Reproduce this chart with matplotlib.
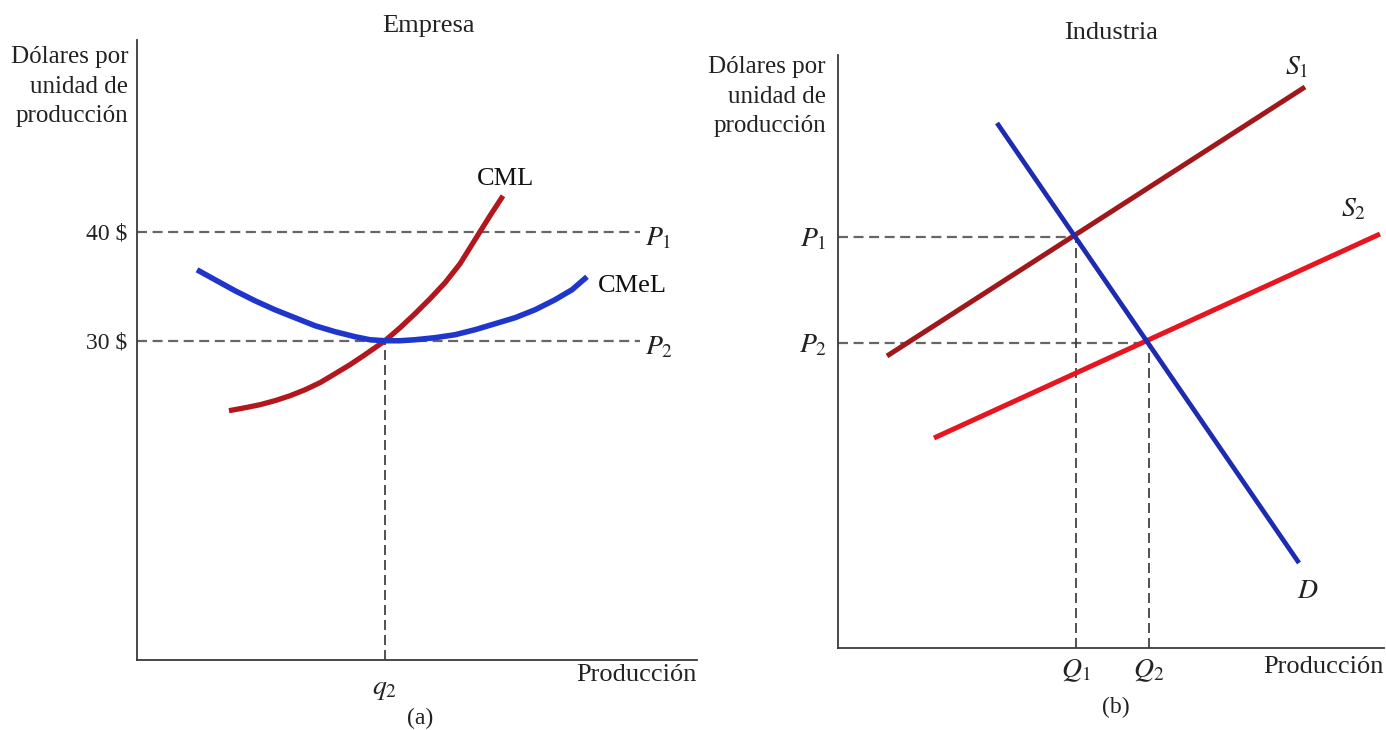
import matplotlib
matplotlib.use('Agg')
import matplotlib.pyplot as plt

plt.rcParams['font.family'] = ['Liberation Serif', 'DejaVu Serif']
plt.rcParams['mathtext.fontset'] = 'stix'

# Empresa (a): producción vs. dólares por unidad
q2 = 248
p1_a, p2_a = 40, 30
cmel_x = [60, 78, 98, 118, 138, 158, 178, 198, 218, 233, 248,
          263, 278, 298, 318, 338, 358, 378, 398, 418, 435, 450]
cmel_y = [36.51, 35.60, 34.59, 33.67, 32.84, 32.11, 31.38, 30.83, 30.37, 30.09, 30.0,
          30.0, 30.09, 30.28, 30.55, 31.01, 31.56, 32.11, 32.84, 33.76, 34.68, 35.87]
cml_x = [92, 108, 123, 138, 153, 168, 183, 198, 213, 228, 248,
         263, 278, 293, 308, 323, 338, 353, 366]
cml_y = [23.58, 23.85, 24.13, 24.50, 24.95, 25.50, 26.15, 26.97, 27.80, 28.72, 30.0,
         31.19, 32.48, 33.85, 35.32, 37.06, 39.27, 41.47, 43.30]

# Industria (b): rectas de oferta y demanda
Q1, Q2 = 238, 311
P1, P2 = 411, 305
s1_x, s1_y = [49, 467], [292, 561]
s2_x, s2_y = [96, 542], [210, 414]
d_x, d_y = [159, 461], [525, 85]

fs = 19
fs_lab = 18
axis_col = '#3a3a3a'
dash_col = '#666666'
txt = '#222222'

fig = plt.figure(figsize=(13.86, 7.30), dpi=100)

# ---------- panel (a) ----------
ax1 = fig.add_axes([137/1386, 70/730, 560/1386, 620/730])
ax1.set_xlim(0, 560)
ax1.set_ylim(0.7, 57.6)
for s in ['top', 'right']:
    ax1.spines[s].set_visible(False)
for s in ['left', 'bottom']:
    ax1.spines[s].set_color(axis_col)
    ax1.spines[s].set_linewidth(1.3)

ax1.plot([0, 503], [p1_a, p1_a], color=dash_col, lw=1.6, dashes=(4.5, 2.5))
ax1.plot([0, 503], [p2_a, p2_a], color=dash_col, lw=1.6, dashes=(4.5, 2.5))
ax1.plot([q2, q2], [0.7, p2_a], color='#333333', lw=1.2, dashes=(6, 3))

ax1.plot(cml_x, cml_y, color='#b3161c', lw=3.8, solid_capstyle='butt', solid_joinstyle='round')
ax1.plot(cmel_x, cmel_y, color='#1f36cc', lw=4.0, solid_capstyle='butt', solid_joinstyle='round')

ax1.set_yticks([p1_a, p2_a])
ax1.set_yticklabels(['40 $', '30 $'])
ax1.set_xticks([q2])
ax1.set_xticklabels([r'$q_2$'])
ax1.tick_params(axis='y', length=0, pad=7, labelsize=17, colors=txt)
ax1.tick_params(axis='x', length=0, pad=12, labelsize=fs + 1, colors=txt)

ax1.text(368, 44.8, 'CML', fontsize=fs, ha='center', va='center', color='#111111')
ax1.text(461, 35.0, 'CMeL', fontsize=fs, ha='left', va='center', color='#111111')
ax1.text(508, 39.4, r'$P_1$', fontsize=fs + 1, ha='left', va='center', color=txt)
ax1.text(508, 29.4, r'$P_2$', fontsize=fs + 1, ha='left', va='center', color=txt)

ax1.text(-0.016, 0.99, 'Dólares por\nunidad de\nproducción', transform=ax1.transAxes,
         fontsize=fs_lab, ha='right', va='top', linespacing=1.44, color=txt)
ax1.text(0.52, 1.0226, 'Empresa', transform=ax1.transAxes, fontsize=fs,
         ha='center', va='center', color=txt)
ax1.text(1.0, -0.024, 'Producción', transform=ax1.transAxes, fontsize=fs,
         ha='right', va='center', color=txt)
ax1.text(0.505, -0.095, '(a)', transform=ax1.transAxes, fontsize=fs - 2,
         ha='center', va='center', color=txt)

# ---------- panel (b) ----------
ax2 = fig.add_axes([838/1386, 82/730, 546/1386, 593/730])
ax2.set_xlim(0, 546)
ax2.set_ylim(0, 593)
for s in ['top', 'right']:
    ax2.spines[s].set_visible(False)
for s in ['left', 'bottom']:
    ax2.spines[s].set_color(axis_col)
    ax2.spines[s].set_linewidth(1.3)

ax2.plot([0, Q1], [P1, P1], color=dash_col, lw=1.6, dashes=(4.5, 2.5))
ax2.plot([0, Q2], [P2, P2], color=dash_col, lw=1.6, dashes=(4.5, 2.5))
ax2.plot([Q1, Q1], [0, P1], color='#333333', lw=1.2, dashes=(6, 3))
ax2.plot([Q2, Q2], [0, P2], color='#333333', lw=1.2, dashes=(6, 3))

ax2.plot(s1_x, s1_y, color='#a0181c', lw=3.6, solid_capstyle='butt')
ax2.plot(s2_x, s2_y, color='#e5161f', lw=3.6, solid_capstyle='butt')
ax2.plot(d_x, d_y, color='#1d2bb0', lw=3.4, solid_capstyle='butt')

ax2.set_yticks([P1, P2])
ax2.set_yticklabels([r'$P_1$', r'$P_2$'])
ax2.set_xticks([Q1, Q2])
ax2.set_xticklabels([r'$Q_1$', r'$Q_2$'])
ax2.tick_params(axis='y', length=0, pad=8, labelsize=fs + 1, colors=txt)
ax2.tick_params(axis='x', length=0, pad=7, labelsize=fs + 1, colors=txt)

ax2.text(459, 580, r'$S_1$', fontsize=fs + 1, ha='center', va='center', color=txt)
ax2.text(516, 438, r'$S_2$', fontsize=fs + 1, ha='center', va='center', color=txt)
ax2.text(470, 56, r'$D$', fontsize=fs + 1, ha='center', va='center', color=txt)

ax2.text(-0.022, 0.998, 'Dólares por\nunidad de\nproducción', transform=ax2.transAxes,
         fontsize=fs_lab, ha='right', va='top', linespacing=1.44, color=txt)
ax2.text(0.50, 1.037, 'Industria', transform=ax2.transAxes, fontsize=fs,
         ha='center', va='center', color=txt)
ax2.text(1.0, -0.032, 'Producción', transform=ax2.transAxes, fontsize=fs,
         ha='right', va='center', color=txt)
ax2.text(0.509, -0.10, '(b)', transform=ax2.transAxes, fontsize=fs - 2,
         ha='center', va='center', color=txt)

fig.savefig('out.png', dpi=100, facecolor='white')
